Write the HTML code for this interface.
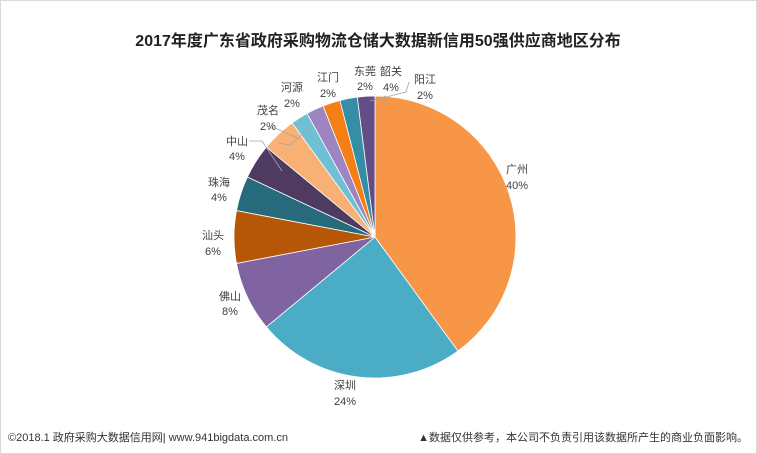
<!DOCTYPE html>
<html><head><meta charset="utf-8"><style>
body{margin:0;background:#fff;}
svg{display:block;font-family:"Liberation Sans","Noto Sans CJK SC",sans-serif;}
</style></head><body>
<svg id="s" width="757" height="454" viewBox="0 0 757 454">
<rect x="0.5" y="0.5" width="756" height="453" fill="#fff" stroke="#d9d9d9"/>
<text x="378" y="46" text-anchor="middle" font-size="16" font-weight="bold" fill="#222">2017年度广东省政府采购物流仓储大数据新信用50强供应商地区分布</text>
<g id="pie"></g>
<g stroke="#a6a6a6" fill="none" stroke-width="0.8">
<polyline points="249,141 262,141 282,171"/>
<polyline points="268,128 275,128 300,139"/>
<polyline points="278,143 290,145 311,127"/>
<polyline points="384,96 386,97 384,104"/>
<polyline points="409,82 406,92 370,101"/>
</g>
<g font-size="11" fill="#404040" text-anchor="middle">
<text x="517" y="173">广州</text><text x="517" y="189">40%</text>
<text x="345" y="389">深圳</text><text x="345" y="405">24%</text>
<text x="230" y="300">佛山</text><text x="230" y="315">8%</text>
<text x="213" y="239">汕头</text><text x="213" y="255">6%</text>
<text x="219" y="186">珠海</text><text x="219" y="201">4%</text>
<text x="237" y="145">中山</text><text x="237" y="160">4%</text>
<text x="268" y="114">茂名</text><text x="268" y="130">2%</text>
<text x="292" y="91">河源</text><text x="292" y="107">2%</text>
<text x="328" y="81">江门</text><text x="328" y="97">2%</text>
<text x="365" y="75">东莞</text><text x="365" y="90">2%</text>
<text x="391" y="75">韶关</text><text x="391" y="91">4%</text>
<text x="425" y="83">阳江</text><text x="425" y="99">2%</text>
</g>
<text x="8" y="441" font-size="11" fill="#333">©2018.1 政府采购大数据信用网| www.941bigdata.com.cn</text>
<text x="748" y="441" font-size="11" fill="#333" text-anchor="end">▲数据仅供参考，本公司不负责引用该数据所产生的商业负面影响。</text>
</svg>
<script>
var d=[[40,"#F79646"],[24,"#4BACC6"],[8,"#8064A2"],[6,"#B65708"],[4,"#276A7C"],[4,"#4F3B62"],[4,"#F9B074"],[2,"#6FC0D4"],[2,"#9C85C0"],[2,"#F47F16"],[2,"#358DA6"],[2,"#634D86"]];
var cx=375,cy=237,r=141,a=0,g=document.getElementById("pie"),h="";
d.forEach(function(s){var a2=a+s[0]*3.6;var p=function(t){t=t*Math.PI/180;return (cx+r*Math.sin(t)).toFixed(2)+","+(cy-r*Math.cos(t)).toFixed(2)};
h+='<path d="M'+cx+','+cy+' L'+p(a)+' A'+r+','+r+' 0 '+(s[0]>50?1:0)+',1 '+p(a2)+' Z" fill="'+s[1]+'" stroke="#fff" stroke-width="0.8"/>';a=a2;});
g.innerHTML=h;
</script>
</body></html>
